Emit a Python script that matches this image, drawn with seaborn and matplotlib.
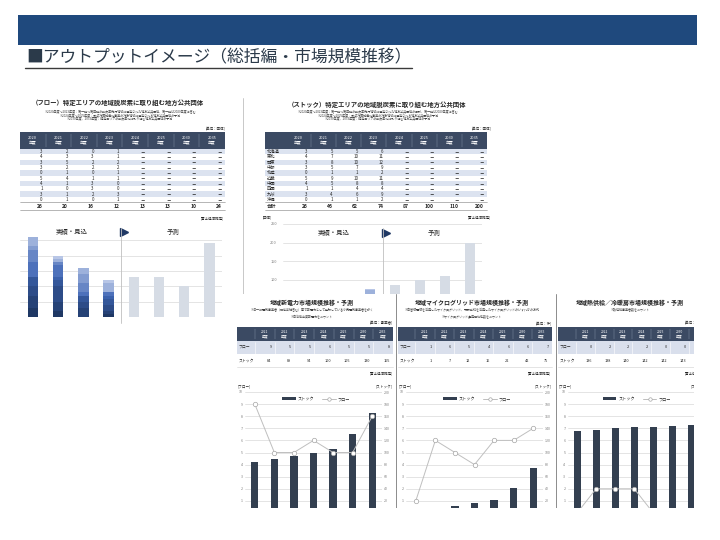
import numpy as np
import matplotlib.pyplot as plt
import seaborn as sns
from matplotlib.patches import Rectangle, Patch
from matplotlib.lines import Line2D

sns.set_theme(style="white")
plt.rcParams['font.family'] = ['Noto Sans CJK JP', 'DejaVu Sans']

# ---- データ ----
years = ['2020', '2021', '2022', '2023', '2024', '2025', '2030', '2035']
regions = ['北海道', '東北', '関東', '中部', '北陸', '近畿', '中国', '四国', '九州', '沖縄']
n_actual = 4  # 2020～2023年度が実績・見込

# 地域別（2020～2023年度）
flow_by_region = [
    [3, 2, 0, 1], [4, 3, 3, 1], [3, 5, 2, 2], [3, 2, 2, 2], [0, 1, 0, 1],
    [5, 4, 1, 1], [4, 1, 3, 0], [1, 0, 3, 0], [3, 1, 2, 3], [0, 1, 0, 1],
]
stock_by_region = [
    [3, 5, 5, 6], [4, 7, 10, 11], [3, 8, 10, 12], [3, 5, 7, 9], [0, 1, 1, 2],
    [5, 9, 10, 11], [4, 5, 8, 8], [1, 1, 4, 4], [3, 4, 6, 9], [0, 1, 1, 2],
]
flow_total = [26, 20, 16, 12, 13, 13, 10, 24]
stock_total = [26, 46, 62, 74, 87, 100, 110, 200]

panel_years = ['2021', '2022', '2023', '2024', '2025', '2030', '2035']
power_flow = [9, 5, 5, 6, 5, 5, 8]
power_stock = [84, 89, 94, 100, 105, 130, 165]
grid_flow = [1, 6, 5, 4, 6, 6, 7]
grid_stock = [1, 7, 12, 16, 22, 42, 75]
heat_flow = [0, 2, 2, 2, 0, 0, 0]
heat_stock = [136, 138, 140, 142, 142, 143, 145]

# ---- スタイル ----
W, H = 720, 540
NAVY = '#1F497D'
HEAD = '#3B4A63'
STRIPE = '#DCE3F0'
PANEL_ROW = '#D9DFEC'
TEXT = '#262626'
NOTE = '#404040'
GRID = '#D9D9D9'
BAR_DARK = '#333F50'
FORECAST = '#D6DCE5'
seg_colors = sns.blend_palette(['#1F3864', '#3F66B5', '#B8C6E6'], len(regions))

fig = plt.figure(figsize=(7.2, 5.4), dpi=100)


def pix_axes(x0, y0, x1, y1, zorder):
    return fig.add_axes([x0 / W, 1 - y1 / H, (x1 - x0) / W, (y1 - y0) / H], zorder=zorder)


def pix_canvas(x0, y0, x1, y1, zorder, white=False):
    ax = pix_axes(x0, y0, x1, y1, zorder)
    ax.set_xlim(x0, x1)
    ax.set_ylim(y1, y0)
    ax.axis('off')
    if white:
        ax.add_patch(Rectangle((x0, y0), x1 - x0, y1 - y0, fc='white', ec='none', zorder=0))
    return ax


def top_table(ax, x0, cw, by_region, total, lab_w=0):
    top, head_h, row_h = 132, 17, 5.3
    xs, xe = x0 - lab_w, x0 + cw * len(years)
    ax.add_patch(Rectangle((xs, top), xe - xs, head_h, fc=HEAD, ec='none'))
    for j, yr in enumerate(years):
        ax.text(x0 + (j + 0.5) * cw, top + head_h / 2, f'{yr}\n年度', color='white',
                fontsize=2.8, ha='center', va='center', linespacing=1.3)
        if j > 0:
            ax.plot([x0 + j * cw] * 2, [top + 2, top + head_h - 2], color='#8C99AE', lw=0.3)
    y = top + head_h
    for i, reg in enumerate(regions):
        if i % 2 == 0:
            ax.add_patch(Rectangle((xs, y), xe - xs, row_h, fc=STRIPE, ec='none'))
        if lab_w:
            ax.text(xs + 1.5, y + row_h / 2, reg, fontsize=3.1, va='center', color=TEXT)
        for j in range(len(years)):
            val = str(by_region[i][j]) if j < n_actual else '－'
            ax.text(x0 + (j + 1) * cw - 3, y + row_h / 2, val, ha='right', va='center',
                    fontsize=3.2, color=TEXT)
        y += row_h
    ax.plot([xs, xe], [y, y], color='#7F7F7F', lw=0.4)
    if lab_w:
        ax.text(xs + 1.5, y + 4, '合計', fontsize=3.4, fontweight='bold', va='center', color=TEXT)
    for j, v in enumerate(total):
        ax.text(x0 + (j + 1) * cw - 3, y + 4, str(v), ha='right', va='center',
                fontsize=3.6, fontweight='bold', color=TEXT)
    ax.plot([xs, xe], [y + 8, y + 8], color='#7F7F7F', lw=0.4)


def stacked_chart(ax, by_region, total, ymax, step, label_y, label_from):
    cum = np.cumsum(np.array(by_region), axis=0)
    actual = years[:n_actual]
    for k in range(len(regions) - 1, -1, -1):
        sns.barplot(x=actual, y=cum[k], order=years, color=seg_colors[k], width=0.42,
                    saturation=1, errorbar=None, linewidth=0, ax=ax)
    sns.barplot(x=years[n_actual:], y=total[n_actual:], order=years, color=FORECAST,
                width=0.42, saturation=1, errorbar=None, linewidth=0, ax=ax)
    ax.set_xlim(-0.5, len(years) - 0.5)
    ax.set_ylim(0, ymax)
    ticks = list(range(0, ymax, step))
    ax.set_yticks(ticks)
    # 下段パネルに隠れる目盛り値は表示しない
    ax.set_yticklabels([str(t) if label_from is not None and t >= label_from else '' for t in ticks])
    ax.yaxis.grid(True, color=GRID, lw=0.5)
    ax.set_axisbelow(True)
    ax.tick_params(axis='x', length=0, labelbottom=False)
    ax.tick_params(axis='y', length=0, labelsize=2.8, labelcolor='#7F7F7F', pad=4)
    ax.set_xlabel('')
    ax.set_ylabel('')
    sns.despine(ax=ax, left=True, bottom=True)
    ax.patch.set_alpha(0)
    tr = ax.get_xaxis_transform()
    ax.text(1.55, label_y, '実績・見込', transform=tr, ha='center', va='center', fontsize=4.6, color=TEXT)
    ax.text(5.55, label_y, '予測', transform=tr, ha='center', va='center', fontsize=4.6, color=TEXT)
    ax.plot(3.62, label_y, marker='>', ms=5.5, color='#1F3864', transform=tr, clip_on=False)


def trend_chart(ax, stock, flow):
    sns.barplot(x=panel_years, y=stock, color=BAR_DARK, width=0.37, saturation=1,
                errorbar=None, linewidth=0, ax=ax)
    ax2 = ax.twinx()
    sns.lineplot(x=np.arange(len(flow)), y=flow, ax=ax2, color='#BFBFBF', lw=0.7,
                 marker='o', ms=3.2, mfc='white', mec='#A6A6A6', mew=0.5)
    ax.set_ylim(0, 200)
    ax.set_yticks(range(0, 201, 20))
    ax2.set_ylim(0, 10)
    ax2.set_yticks(range(0, 11, 1))
    ax.yaxis.tick_right()
    ax2.yaxis.tick_left()
    ax.set_xlim(-0.5, len(panel_years) - 0.5)
    ax.yaxis.grid(True, color=GRID, lw=0.5)
    ax.set_axisbelow(True)
    for a in (ax, ax2):
        a.tick_params(axis='x', length=0, labelbottom=False)
        a.tick_params(axis='y', length=0, labelsize=2.6, labelcolor='#7F7F7F', pad=1.5)
        a.set_xlabel('')
        a.set_ylabel('')
        for s in a.spines.values():
            s.set_visible(False)
    ax.patch.set_alpha(0)
    handles = [Patch(fc=BAR_DARK, ec='none', label='ストック'),
               Line2D([], [], color='#BFBFBF', lw=0.7, marker='o', ms=2.5, mfc='white',
                      mec='#A6A6A6', mew=0.5, label='フロー')]
    ax2.legend(handles=handles, loc='center', bbox_to_anchor=(0.52, 0.94), ncol=2,
               frameon=False, fontsize=3, handlelength=3.2, handleheight=0.6,
               columnspacing=2, handletextpad=0.5)


def panel(cv, x0, lab_w, cw, title, notes, unit, flow, stock):
    n = len(panel_years)
    x1 = x0 + lab_w + n * cw
    xc = (x0 + x1) / 2 - 3
    cv.text(xc, 302, title, fontsize=4.3, fontweight='bold', ha='center', va='center', color=TEXT)
    for k, line in enumerate(notes):
        cv.text(xc, 309 + 7 * k, line, fontsize=2.2, ha='center', va='center', color=NOTE)
    cv.text(x1, 323, unit, fontsize=2.5, ha='right', va='center', color=TEXT)
    cv.add_patch(Rectangle((x0, 327), x1 - x0, 14, fc=HEAD, ec='none'))
    cv.add_patch(Rectangle((x0, 341), x1 - x0, 13, fc=PANEL_ROW, ec='none'))
    cv.plot([x0, x1], [367, 367], color=GRID, lw=0.5)
    cv.text(x0 + 1.5, 347.5, 'フロー', fontsize=2.8, va='center', color=TEXT)
    cv.text(x0 + 1.5, 360.5, 'ストック', fontsize=2.8, va='center', color=TEXT)
    for j, yr in enumerate(panel_years):
        left = x0 + lab_w + j * cw
        cv.text(left + cw / 2, 334, f'{yr}\n年度', color='white', fontsize=2.4,
                ha='center', va='center', linespacing=1.3)
        cv.plot([left] * 2, [329, 339], color='#8C99AE', lw=0.3)
        cv.plot([left] * 2, [342, 366], color='white', lw=0.4)
        cv.text(left + cw - 3, 347.5, str(flow[j]), ha='right', va='center', fontsize=2.8, color=TEXT)
        cv.text(left + cw - 3, 360.5, str(stock[j]), ha='right', va='center', fontsize=2.8, color=TEXT)
    cv.text(x1, 373, '[富士経済推定]', fontsize=2.5, ha='right', va='center', color=TEXT)
    cv.text(x0 + 1, 386, '[フロー]', fontsize=2.6, ha='left', va='center', color=TEXT)
    cv.text(x1, 386, '[ストック]', fontsize=2.6, ha='right', va='center', color=TEXT)


# ---- 背景・見出し ----
canvas = pix_canvas(0, 0, W, H, zorder=0)
canvas.add_patch(Rectangle((18, 15), 679, 30, fc=NAVY, ec='none'))
canvas.text(26, 57.5, '■アウトプットイメージ（総括編・市場規模推移）', fontsize=12.1,
            color='#2B3A4A', va='center', ha='left')
canvas.plot([25, 412], [67.5, 67.5], color='#3A3A3A', lw=1.0)

# ---- フロー表 ----
canvas.text(118, 102.5, '（フロー）特定エリアの地域脱炭素に取り組む地方公共団体', fontsize=4.6,
            fontweight='bold', ha='center', va='center', color=TEXT)
flow_notes = ['※2020年度～2023年度：第一弾～第四弾の脱炭素先行地域に選定された地方公共団体、第一弾は2020年度に含む',
              '※2024年度～2025年度：重点対策加速化事業の対象地域に選定される地方公共団体の予測',
              '※2030年度、2035年度：特定エリアの脱炭素化に取り組む地方公共団体の予測']
for k, line in enumerate(flow_notes):
    canvas.text(120, 111 + 3.8 * k, line, fontsize=2.2, ha='center', va='center', color=NOTE)
canvas.text(225, 128, '[単位：団体]', fontsize=2.5, ha='right', va='center', color=TEXT)
top_table(canvas, 20, 25.6, flow_by_region, flow_total)
canvas.text(224, 218, '[富士経済推定]', fontsize=2.5, ha='right', va='center', color=TEXT)

# ---- ストック表 ----
canvas.text(377, 104, '（ストック）特定エリアの地域脱炭素に取り組む地方公共団体', fontsize=4.6,
            fontweight='bold', ha='center', va='center', color=TEXT)
stock_notes = ['※2020年度～2023年度：第一弾～第四弾の脱炭素先行地域に選定された地方公共団体の累計、第一弾は2020年度に含む',
               '※2024年度～2025年度：重点対策加速化事業の対象地域に選定される地方公共団体の予測',
               '※2030年度、2035年度：特定エリアの脱炭素化に取り組む地方公共団体の予測']
for k, line in enumerate(stock_notes):
    canvas.text(378, 111 + 3.8 * k, line, fontsize=2.2, ha='center', va='center', color=NOTE)
canvas.text(492, 128, '[単位：団体]', fontsize=2.5, ha='right', va='center', color=TEXT)
top_table(canvas, 285.5, 25.2, stock_by_region, stock_total, lab_w=20.5)
canvas.text(263, 217, '[団体]', fontsize=2.5, ha='left', va='center', color=TEXT)
canvas.text(491, 217, '[富士経済推定]', fontsize=2.5, ha='right', va='center', color=TEXT)
canvas.plot([243, 243], [98, 294], color='#BFBFBF', lw=0.6)

# ---- 推移グラフ（上段） ----
ax_flow = pix_axes(20.4, 225, 222, 317, zorder=1)
stacked_chart(ax_flow, flow_by_region, flow_total, 30, 5, 0.924, None)
ax_flow.axvline(3.5, ymin=-0.065, ymax=0.967, color='#BFBFBF', lw=0.6, clip_on=False)

ax_stock = pix_axes(282.5, 224, 482.5, 317, zorder=1)
stacked_chart(ax_stock, stock_by_region, stock_total, 300, 50, 0.903, 100)
ax_stock.set_ylim(0, 250)
ax_stock.axvline(3.5, ymin=0, ymax=0.96, color='#BFBFBF', lw=0.6)

# ---- 市場規模推移（下段） ----
bottom = pix_canvas(237, 294, W, H, zorder=2, white=True)
panel(bottom, 237, 18, 19.7, '地域新電力市場規模推移・予測',
      ['※旧一般電気事業者（関係会社含む）等で新電力として登録している小売電気事業者を除く',
       '※自治体出資新電力をカウント'],
      '[単位：事業者]', power_flow, power_stock)
panel(bottom, 398, 17, 19.5, '地域マイクログリッド市場規模推移・予測',
      ['※自営線電線を活用したマイクログリッド、既設系統を活用したマイクログリッドのいずれかの方式',
       '※マイクログリッド運用開始件数をカウント'],
      '[単位：件]', grid_flow, grid_stock)
panel(bottom, 558, 18, 18.8, '地域熱供給／冷暖房市場規模推移・予測',
      ['※熱供給事業者数をカウント'],
      '[単位：事業者]', heat_flow, heat_stock)
for xs in (396, 556):
    bottom.plot([xs, xs], [294, 520], color='#8C8C8C', lw=0.7)

trend_chart(pix_axes(245, 392, 382, 513, zorder=3), power_stock, power_flow)
trend_chart(pix_axes(406, 392, 543, 513, zorder=3), grid_stock, grid_flow)
trend_chart(pix_axes(567.5, 392, 701, 513, zorder=3), heat_stock, heat_flow)

# 元画像の切り抜き範囲
fig.add_artist(Rectangle((694 / W, 0), (W - 694) / W, (H - 294) / H, transform=fig.transFigure,
                         fc='white', ec='none', zorder=10))
fig.add_artist(Rectangle((230 / W, 0), (694 - 230) / W, (H - 508) / H, transform=fig.transFigure,
                         fc='white', ec='none', zorder=10))

fig.savefig('out.png', dpi=100)
